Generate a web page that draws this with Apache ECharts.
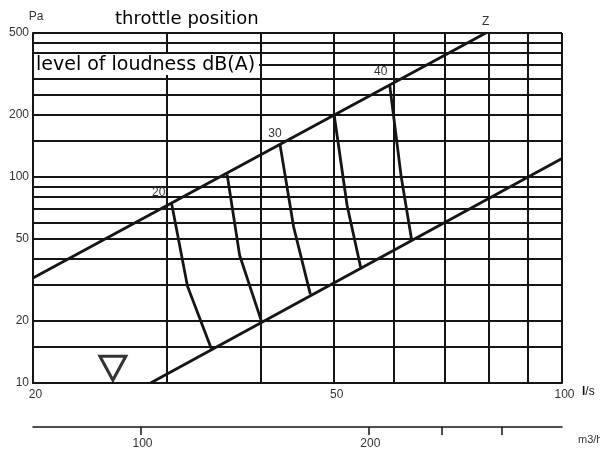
<!DOCTYPE html>
<html><head><meta charset="utf-8">
<script src="https://cdn.jsdelivr.net/npm/echarts@6/dist/echarts.min.js"></script>
<style>html,body{margin:0;padding:0;background:#fff}#c{width:600px;height:450px}</style>
</head><body><div id="c"></div>
<script>
// ---- data ----
const xGridTicks = [20, 30, 40, 50, 60, 70, 80, 90, 100];
const xLabelTicks = [20, 50, 100];
const yGridTicks = [10, 15, 20, 30, 40, 50, 60, 70, 80, 90, 100, 150, 200, 250, 300, 350, 400, 450, 500];
const yLabelTicks = [10, 20, 50, 100, 200, 500];
const m3hTicks = [100, 200, 250, 300];
const m3hLabelTicks = [100, 200];

const zLineQ = [20, 79.3];
const zLineP = [32.3, 500];
const lowLineQ = [28.6, 100];
const lowLineP = [10, 123];

const throttleNames = ['20', '', '30', '', '40'];
const throttleQ = [[30.5, 32.0, 34.4], [36.1, 37.5, 40.1], [42.4, 44.2, 46.5], [50.0, 52.0, 54.2], [59.2, 61.3, 63.3]];
const throttleP = [[74, 29.5, 14.7], [103, 41.7, 19.8], [144, 57.2, 27.0], [200, 72.9, 36.4], [280, 100.7, 49.3]];

const markerQ = [25.5];
const markerP = [11.8];

// ---- styling ----
const FONT = "'Liberation Sans', Arial, sans-serif";
const WIDE = "'DejaVu Sans', sans-serif";
const INK = '#151515';
const labelOffsets = [[-13, 0], [0, 0], [-5, 0], [0, 0], [-9, -2]];

const zip = (a, b) => a.map((v, i) => [v, b[i]]);

const lineBase = {
  type: 'line', xAxisIndex: 0, yAxisIndex: 0, z: 5,
  symbol: 'circle', symbolSize: 0, showSymbol: true, itemStyle: { color: INK },
  lineStyle: { color: INK, width: 2.8, join: 'miter' }
};

const series = [];
series.push(Object.assign({}, lineBase, {
  data: zip(zLineQ, zLineP).map((p, i) => ({
    value: p,
    label: { show: i === zLineQ.length - 1, formatter: 'Z', position: 'top', distance: 5,
             color: '#333', fontSize: 12, fontFamily: FONT }
  }))
}));
series.push(Object.assign({}, lineBase, { data: zip(lowLineQ, lowLineP) }));
throttleQ.forEach((qs, k) => {
  series.push(Object.assign({}, lineBase, {
    data: zip(qs, throttleP[k]).map((p, i) => ({
      value: p,
      label: { show: i === 0 && throttleNames[k] !== '', formatter: throttleNames[k], position: 'top',
               distance: 5, offset: labelOffsets[k], color: '#333', fontSize: 12, fontFamily: FONT }
    }))
  }));
});
series.push({
  type: 'scatter', xAxisIndex: 0, yAxisIndex: 0, z: 5,
  symbol: 'triangle', symbolRotate: 180, symbolSize: [26, 24],
  itemStyle: { color: 'rgba(0,0,0,0)', borderColor: '#000', borderWidth: 3 },
  data: zip(markerQ, markerP)
});

const chart = echarts.init(document.getElementById('c'), null, { renderer: 'canvas' });
chart.setOption({
  animation: false,
  backgroundColor: '#fff',
  textStyle: { fontFamily: FONT },
  title: [
    { text: 'throttle position', left: 110, top: 5,
      textStyle: { fontSize: 18, fontWeight: 'normal', color: '#000', fontFamily: WIDE } },
    { text: 'level of loudness dB(A)', left: 34, top: 54, padding: [1, 4, 0, 2],
      backgroundColor: '#fff', z: 10,
      textStyle: { fontSize: 19, fontWeight: 'normal', color: '#000', fontFamily: WIDE, lineHeight: 20 } }
  ],
  grid: { left: 33, right: 38, top: 33, bottom: 67, containLabel: false, outerBoundsMode: 'none' },
  xAxis: [
    { type: 'log', min: 20, max: 100, position: 'bottom',
      name: '{b|l}{n|/s}', nameLocation: 'end', nameGap: 20,
      nameTextStyle: { verticalAlign: 'top', padding: [3, 0, 0, 0],
        rich: { b: { fontSize: 12, fontWeight: 'bold', color: '#111', fontFamily: FONT },
                n: { fontSize: 12, color: '#111', fontFamily: FONT } } },
      axisLine: { show: true, lineStyle: { color: INK, width: 2 } },
      axisTick: { show: false, customValues: xGridTicks },
      axisLabel: { customValues: xLabelTicks, fontSize: 12, color: '#333', margin: 6, padding: [0, 0, 0, 5], fontFamily: FONT },
      splitLine: { show: true, lineStyle: { color: INK, width: 2 } },
      minorSplitLine: { show: false } },
    { type: 'log', min: 72, max: 360, position: 'bottom', offset: 44,
      name: 'm3/h', nameLocation: 'end', nameGap: 16,
      nameTextStyle: { fontSize: 11, color: '#333', verticalAlign: 'top', padding: [7, 0, 0, 0], fontFamily: FONT },
      axisLine: { show: true, lineStyle: { color: INK, width: 1.5 } },
      axisTick: { show: true, customValues: m3hTicks, length: 8, lineStyle: { color: INK, width: 1.5 } },
      axisLabel: { customValues: m3hLabelTicks, fontSize: 12, color: '#333', margin: 11, padding: [0, 0, 0, 3], fontFamily: FONT },
      splitLine: { show: false } }
  ],
  yAxis: [
    { type: 'log', min: 10, max: 500,
      name: 'Pa', nameLocation: 'end', nameGap: 10,
      nameTextStyle: { fontSize: 12, color: '#333', align: 'center', padding: [0, 0, 0, 6], fontFamily: FONT },
      axisLine: { show: true, lineStyle: { color: INK, width: 2 } },
      axisTick: { show: false, customValues: yGridTicks },
      axisLabel: { customValues: yLabelTicks, fontSize: 12, color: '#333', margin: 4, fontFamily: FONT },
      splitLine: { show: true, lineStyle: { color: INK, width: 2 } } }
  ],
  series: series
});
</script></body></html>
